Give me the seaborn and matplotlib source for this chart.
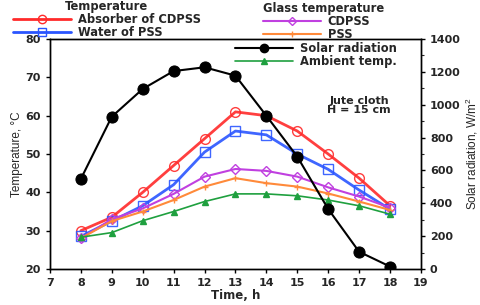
import numpy as np
import pandas as pd
import matplotlib
matplotlib.use('Agg')
import matplotlib.pyplot as plt
import seaborn as sns
from matplotlib.lines import Line2D

# ── Dados ─────────────────────────────────────────────────────────────────────
hours = [8, 9, 10, 11, 12, 13, 14, 15, 16, 17, 18]

absorber_cdpss = [30.0, 33.5, 40.0, 47.0, 54.0, 61.0, 60.0, 56.0, 50.0, 43.7, 36.5]
water_pss      = [28.5, 32.5, 36.5, 42.0, 50.5, 56.0, 55.0, 50.0, 46.0, 40.6, 35.6]
glass_cdpss    = [28.0, 33.0, 35.8, 39.6, 44.1, 46.1, 45.6, 44.1, 41.3, 38.9, 36.0]
glass_pss      = [28.0, 32.5, 35.0, 38.0, 41.5, 43.7, 42.4, 41.5, 39.7, 37.6, 35.4]
ambient        = [28.3, 29.5, 32.6, 35.0, 37.6, 39.6, 39.6, 39.1, 38.0, 36.5, 34.3]
solar          = [548, 927, 1096, 1205, 1228, 1177, 933, 684, 365, 105, 15]

RED, BLUE, PURPLE = '#ff2a2a', '#2a55ff', '#c040e0'
ORANGE, GREEN = '#ff8a3a', '#1fa03f'
BOLD = 'DejaVu Sans'

sns.set_style('ticks')
plt.rcParams['font.family'] = ['Liberation Sans', 'DejaVu Sans']
plt.rcParams['mathtext.default'] = 'regular'

fig = plt.figure(figsize=(4.8, 3.05), dpi=100)
ax = fig.add_axes([0.104, 0.118, 0.773, 0.754])
ax2 = ax.twinx()

series = [
    (absorber_cdpss, RED, 'o', 2.0, 'none'),
    (water_pss, BLUE, 's', 2.0, 'none'),
    (glass_cdpss, PURPLE, 'D', 1.5, 'none'),
    (glass_pss, ORANGE, '+', 1.5, ORANGE),
    (ambient, GREEN, '^', 1.2, GREEN),
]
for vals, col, mk, lw, fc in series:
    ms = 7 if mk in ('o', 's') else 5
    sns.lineplot(x=hours, y=vals, ax=ax, color=col, lw=lw, marker=mk,
                 markersize=ms, markerfacecolor=fc, markeredgecolor=col,
                 markeredgewidth=1.0, alpha=0.9 if mk in ('o', 's') else 1)

sns.lineplot(x=hours, y=solar, ax=ax2, color='black', lw=1.5, marker='o',
             markersize=8, markerfacecolor='black', markeredgecolor='black')

ax.set_xlim(7, 19)
ax.set_ylim(20, 80)
ax.set_xticks(range(7, 20))
ax.set_yticks(range(20, 81, 10))
ax2.set_ylim(0, 1400)
ax2.set_yticks(range(0, 1401, 200))
ax2.set_yticks(range(0, 1401, 100), minor=True)

for a in (ax, ax2):
    for s in a.spines.values():
        s.set_linewidth(1.0)
        s.set_color('black')
    a.tick_params(labelsize=8, width=1.0, length=3, color='black')
    for lab in a.get_xticklabels() + a.get_yticklabels():
        lab.set_fontweight('bold')
        lab.set_family(BOLD)
ax2.tick_params(which='minor', length=2, width=0.8)

ax.set_xlabel('Time, h', fontsize=8.5, fontweight='bold', family=BOLD, labelpad=1)
ax.set_ylabel('Temperature, °C', fontsize=8.5, labelpad=2)
ax2.set_ylabel('Solar radiation, W/m$^2$', fontsize=8.5, labelpad=2)

ax.text(0.833, 0.711, 'Jute cloth\nH = 15 cm', transform=ax.transAxes,
        ha='center', va='center', fontsize=8, fontweight='bold',
        family=BOLD, linespacing=0.95)

def handle(col, mk, lw, fc, ms=6):
    return Line2D([], [], color=col, lw=lw, marker=mk, markersize=ms,
                  markerfacecolor=fc, markeredgecolor=col)

leg_font = {'family': BOLD, 'size': 8.3, 'weight': 'bold'}
common = dict(frameon=False, prop=leg_font, handlelength=5.0,
              handletextpad=0.6, labelspacing=0.0, borderpad=0,
              borderaxespad=0, loc='upper left')
leg1 = fig.legend([handle(RED, 'o', 2, 'none'), handle(BLUE, 's', 2, 'none')],
                  ['Absorber of CDPSS', 'Water of PSS'],
                  title='Temperature', bbox_to_anchor=(0.027, 1.0),
                  title_fontproperties=leg_font, **common)
leg2 = fig.legend([handle(PURPLE, 'D', 1.5, 'none', 4), handle(ORANGE, '+', 1.5, ORANGE, 5)],
                  ['CDPSS', 'PSS'],
                  title='Glass temperature', bbox_to_anchor=(0.548, 0.993),
                  title_fontproperties=leg_font, alignment='left', **common)
fig.legend([handle('black', 'o', 1.5, 'black', 6), handle(GREEN, '^', 1.2, GREEN, 4)],
           ['Solar radiation', 'Ambient temp.'],
           bbox_to_anchor=(0.49, 1 - 42 / 305), **common)

fig.savefig('out.png', dpi=100)
